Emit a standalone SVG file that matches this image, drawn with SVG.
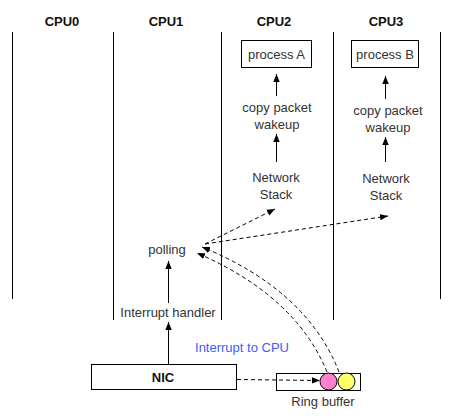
<svg xmlns="http://www.w3.org/2000/svg" width="452" height="419" viewBox="0 0 452 419">
<style>
  .hdr{font-family:"Liberation Sans",Arial,sans-serif;font-size:13px;font-weight:bold;fill:#111;text-anchor:middle}
  .lbl{font-family:"Liberation Sans",Arial,sans-serif;font-size:13px;fill:#333;text-anchor:middle}
  .blue{font-family:"Liberation Sans",Arial,sans-serif;font-size:13px;fill:#3f5cff;text-anchor:middle}
  .col{stroke:#000;stroke-width:1;fill:none}
  .box{stroke:#000;stroke-width:1;fill:#fff}
  .arr{stroke:#000;stroke-width:1;fill:none;marker-end:url(#ah)}
  .dash{stroke:#000;stroke-width:1;fill:none;stroke-dasharray:4,3;marker-end:url(#ah)}
</style>
<defs>
  <marker id="ah" viewBox="0 0 10 10" refX="10" refY="5" markerWidth="8" markerHeight="8" orient="auto" markerUnits="userSpaceOnUse">
    <path d="M0,1 L10,5 L0,9 z" fill="#000"/>
  </marker>
</defs>
<rect width="452" height="419" fill="#fff"/>
<g id="columns">
  <line class="col" x1="12.5" y1="32" x2="12.5" y2="299"/>
  <line class="col" x1="113.5" y1="32" x2="113.5" y2="320"/>
  <line class="col" x1="221.5" y1="32" x2="221.5" y2="320"/>
  <line class="col" x1="333.5" y1="32" x2="333.5" y2="320"/>
  <line class="col" x1="440.5" y1="32" x2="440.5" y2="299"/>
  <text class="hdr" x="62" y="26">CPU0</text>
  <text class="hdr" x="166" y="26">CPU1</text>
  <text class="hdr" x="274" y="26">CPU2</text>
  <text class="hdr" x="386" y="26">CPU3</text>
</g>
<g id="processA">
  <rect class="box" x="241.5" y="40.5" width="70" height="27"/>
  <text class="lbl" x="276.5" y="58.5">process A</text>
</g>
<g id="processB">
  <rect class="box" x="351.5" y="40.5" width="67" height="27"/>
  <text class="lbl" x="385" y="58.5">process B</text>
</g>
<g id="copyA">
  <text class="lbl" x="277" y="111.5">copy packet</text>
  <text class="lbl" x="277" y="128.5">wakeup</text>
</g>
<g id="copyB">
  <text class="lbl" x="388" y="114.5">copy packet</text>
  <text class="lbl" x="388" y="131.5">wakeup</text>
</g>
<g id="stackA">
  <text class="lbl" x="276" y="181.5">Network</text>
  <text class="lbl" x="276" y="198.5">Stack</text>
</g>
<g id="stackB">
  <text class="lbl" x="386" y="182.5">Network</text>
  <text class="lbl" x="386" y="199.5">Stack</text>
</g>
<g id="polling">
  <text class="lbl" x="167" y="253.5">polling</text>
</g>
<g id="handler">
  <text class="lbl" x="168" y="316.5">Interrupt handler</text>
</g>
<g id="nic">
  <rect class="box" x="91.5" y="364.5" width="145" height="25"/>
  <text class="hdr" x="163" y="381.5">NIC</text>
</g>
<g id="ringbuffer">
  <rect class="box" x="276.5" y="373.5" width="84" height="17"/>
  <circle cx="328.5" cy="381.5" r="8.5" fill="#ff80cc" stroke="#000" stroke-width="1"/>
  <circle cx="346.5" cy="381.5" r="8.5" fill="#ffff66" stroke="#000" stroke-width="1"/>
  <text class="lbl" x="323" y="405.5">Ring buffer</text>
</g>
<g id="irqlabel">
  <text class="blue" x="242" y="351.5">Interrupt to CPU</text>
</g>
<g id="connectors">
  <line class="arr" x1="276.5" y1="96" x2="276.5" y2="74"/>
  <line class="arr" x1="385.5" y1="99" x2="385.5" y2="76"/>
  <line class="arr" x1="276.5" y1="162" x2="276.5" y2="134"/>
  <line class="arr" x1="385.5" y1="162" x2="385.5" y2="137"/>
  <line class="arr" x1="168.5" y1="303" x2="168.5" y2="261"/>
  <line class="arr" x1="168.5" y1="364" x2="168.5" y2="322"/>
  <line class="dash" x1="205" y1="244" x2="275" y2="209"/>
  <line class="dash" x1="205" y1="244" x2="388" y2="216"/>
  <line class="dash" x1="237" y1="379.5" x2="320" y2="380.5"/>
  <path class="dash" d="M327,372 Q296,296 197,253"/>
  <path class="dash" d="M339,372 Q307,290 202,247"/>
</g>
</svg>
